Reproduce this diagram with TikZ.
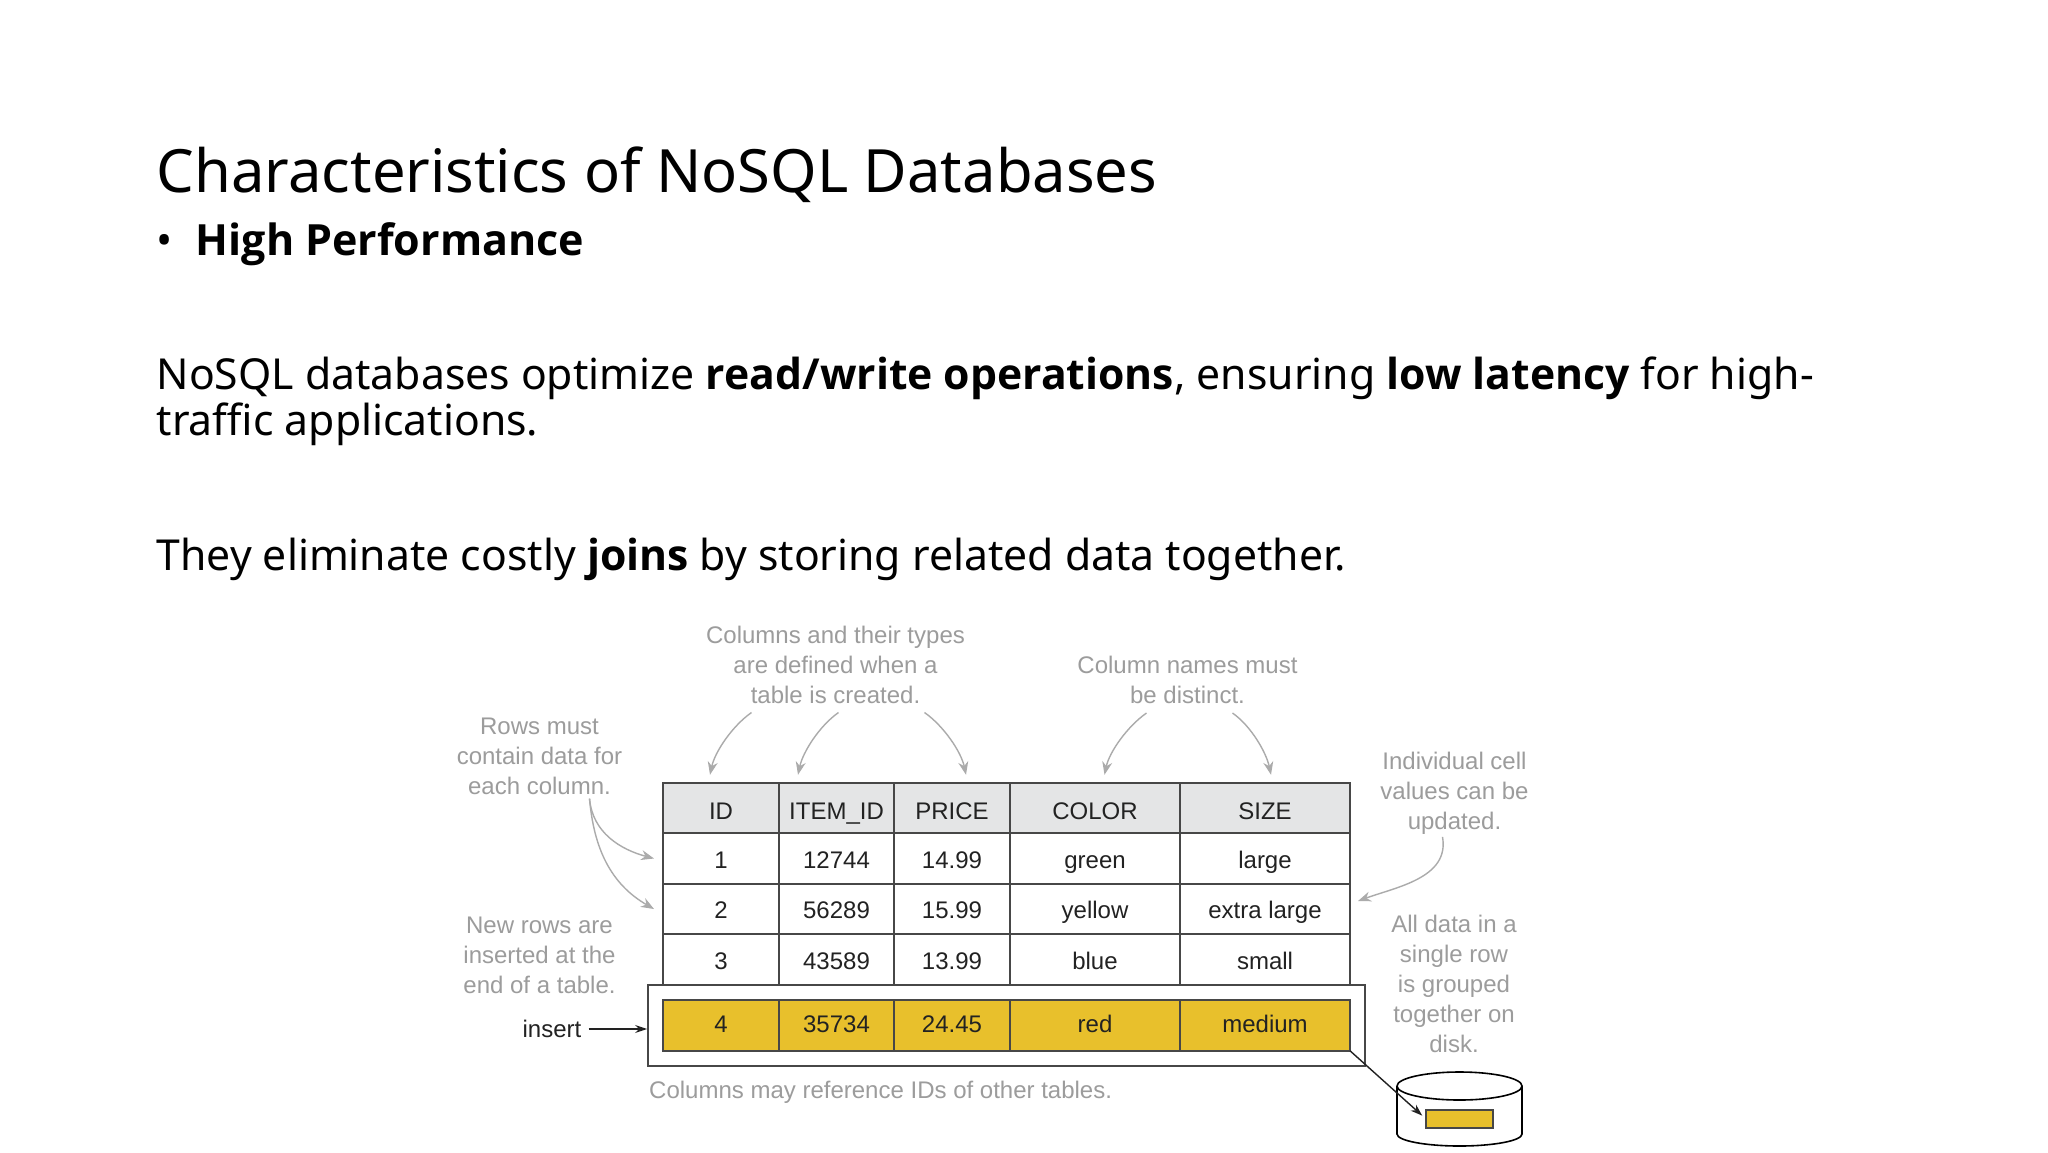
\documentclass[tikz,border=0pt]{standalone}
\usepackage{fontspec}
\setmainfont{Noto Sans}[BoldFont={Open Sans Bold}]
\newfontfamily\figfont{Liberation Sans}
\usepackage{tikz}
\usetikzlibrary{positioning}
\usetikzlibrary{arrows.meta}
\usepackage{xcolor}
\definecolor{notegray}{HTML}{9C9C9C}
\definecolor{arrowgray}{HTML}{ABABAB}
\definecolor{rulegray}{HTML}{474747}
\definecolor{headfill}{HTML}{E4E5E6}
\definecolor{rowfill}{HTML}{E8C02C}
\definecolor{inktext}{HTML}{222222}

\begin{document}
\begin{tikzpicture}[x=1pt, y=-1pt,
    slidetext/.style={anchor=base west, inner sep=0pt, align=left, text=black},
    cell/.style={draw=rulegray, line width=1.8pt, rectangle, outer sep=0pt, inner sep=0pt, minimum height=50.5pt,
        text height=19pt, text depth=0pt, text=inktext, font=\figfont\fontsize{24}{30}\selectfont},
    headcell/.style={fill=headfill, text height=22pt},
    newcell/.style={fill=rowfill, text height=14pt},
    col1/.style={cell, minimum width=116pt},
    col2/.style={cell, minimum width=115pt},
    col3/.style={cell, minimum width=116pt},
    col4/.style={cell, minimum width=170pt},
    col5/.style={cell, minimum width=170pt},
    note/.style={inner sep=0pt, align=center, text=notegray, font=\figfont\fontsize{24}{30}\selectfont},
    notearrow/.style={draw=arrowgray, line width=1.4pt, -{Stealth[length=13pt, width=10pt]}},
    blackarrow/.style={draw=inktext, line width=1.4pt, -{Stealth[length=12pt, width=8pt]}}]
    \useasboundingbox[fill=white] (0,0) rectangle (2048,1152);

    % Slide text
    \node (title) [slidetext, font=\fontsize{59.7}{60}\selectfont] at (156.5,192) {Characteristics of NoSQL Databases};
    \node (heading) [slidetext, font=\bfseries\fontsize{43}{43}\selectfont] at (156.5,255) {\makebox[39pt][l]{\mdseries•}High Performance};
    \node (bodyone) [slidetext, font=\fontsize{42.7}{46}\selectfont] at (156.5,435.5) {NoSQL databases optimize \textbf{read/write operations}, ensuring \textbf{low latency} for high-\\traffic applications.};
    \node (bodytwo) [slidetext, font=\fontsize{42.7}{46}\selectfont] at (156.5,570) {They eliminate costly \textbf{joins} by storing related data together.};

    % Box round the new row
    \node (insertbox) [draw=rulegray, line width=1.8pt, fill=white, minimum width=717pt, minimum height=81pt] at (1006.5,1025.5) {};

    % Header row
    \node (idhead) [col1, headcell] at (721,808) {ID};
    \node (itemhead) [col2, headcell, right=0pt of idhead] {ITEM\_ID};
    \node (pricehead) [col3, headcell, right=0pt of itemhead] {PRICE};
    \node (colorhead) [col4, headcell, right=0pt of pricehead] {COLOR};
    \node (sizehead) [col5, headcell, right=0pt of colorhead] {SIZE};

    % Rows of the table
    \node (ida) [col1, below=0pt of idhead] {1};
    \node (itema) [col2, right=0pt of ida] {12744};
    \node (pricea) [col3, right=0pt of itema] {14.99};
    \node (colora) [col4, right=0pt of pricea] {green};
    \node (sizea) [col5, right=0pt of colora] {large};

    \node (idb) [col1, below=0pt of ida] {2};
    \node (itemb) [col2, right=0pt of idb] {56289};
    \node (priceb) [col3, right=0pt of itemb] {15.99};
    \node (colorb) [col4, right=0pt of priceb] {yellow};
    \node (sizeb) [col5, right=0pt of colorb] {extra large};

    \node (idc) [col1, below=0pt of idb] {3};
    \node (itemc) [col2, right=0pt of idc] {43589};
    \node (pricec) [col3, right=0pt of itemc] {13.99};
    \node (colorc) [col4, right=0pt of pricec] {blue};
    \node (sizec) [col5, right=0pt of colorc] {small};

    % New row
    \node (idd) [col1, newcell] at (721,1025.5) {4};
    \node (itemd) [col2, newcell, right=0pt of idd] {35734};
    \node (priced) [col3, newcell, right=0pt of itemd] {24.45};
    \node (colord) [col4, newcell, right=0pt of priced] {red};
    \node (sized) [col5, newcell, right=0pt of colord] {medium};

    % Notes round the table
    \node (typesnote) [note] at (835.5,664.5) {Columns and their types\\are defined when a\\table is created.};
    \node (distinctnote) [note] at (1187.5,680) {Column names must\\be distinct.};
    \node (rowsnote) [note] at (539.5,756) {Rows must\\contain data for\\each column.};
    \node (updatenote) [note] at (1454.5,793.5) {Individual cell\\values can be\\updated.};
    \node (insertnote) [note] at (539.5,955.5) {New rows are\\inserted at the\\end of a table.};
    \node (groupnote) [note] at (1454,984) {All data in a\\single row\\is grouped\\together on\\disk.};
    \node (refnote) [note, anchor=west] at (649,1092.5) {Columns may reference IDs of other tables.};
    \node (insertlabel) [inner sep=0pt, text=inktext, font=\figfont\fontsize{24}{30}\selectfont] at (552,1029) {insert};

    % Disk with the stored row
    \draw[draw=black, line width=1.6pt, fill=white] (1397,1086) -- (1397,1134) arc[start angle=180, end angle=360, x radius=62.5pt, y radius=12pt] -- (1522,1086);
    \draw[draw=black, line width=1.6pt, fill=white] (1397,1086) arc[start angle=180, end angle=-180, x radius=62.5pt, y radius=14pt];
    \node (diskrow) [draw=rulegray, line width=1.6pt, fill=rowfill, minimum width=67pt, minimum height=18pt, inner sep=0pt, outer sep=0pt] at (1459.5,1119) {};

    % Arrows from the notes
    \draw[notearrow] ([xshift=-84pt,yshift=-9pt]typesnote.south) to[out=215, in=78, looseness=0.8] ([xshift=-11pt,yshift=8pt]idhead.north);
    \draw[notearrow] ([xshift=3pt,yshift=-9pt]typesnote.south) to[out=215, in=78, looseness=0.8] ([xshift=-38.5pt,yshift=8pt]itemhead.north);
    \draw[notearrow] ([xshift=89pt,yshift=-9pt]typesnote.south) to[out=-35, in=102, looseness=0.8] ([xshift=14pt,yshift=8pt]pricehead.north);
    \draw[notearrow] ([xshift=-41pt,yshift=-9pt]distinctnote.south) to[out=215, in=78, looseness=0.8] ([xshift=9.5pt,yshift=8pt]colorhead.north);
    \draw[notearrow] ([xshift=45pt,yshift=-9pt]distinctnote.south) to[out=-35, in=102, looseness=0.8] ([xshift=6pt,yshift=8pt]sizehead.north);
    \draw[notearrow] ([xshift=50pt,yshift=-4pt]rowsnote.south) to[out=-85, in=165] ([xshift=-9pt]ida.west);
    \draw[notearrow] ([xshift=50pt,yshift=-4pt]rowsnote.south) to[out=-85, in=150] ([xshift=-9pt]idb.west);
    \draw[notearrow] ([xshift=-12pt,yshift=-2pt]updatenote.south) to[out=-80, in=20] ([xshift=8pt,yshift=8pt]sizeb.east);

    % Black arrows
    \draw[blackarrow] (insertlabel.east) ++(7,0) -- (insertlabel.east -| insertbox.west);
    \draw[blackarrow, shorten >=5pt] (sized.south east) -- (diskrow.west);
\end{tikzpicture}
\end{document}
